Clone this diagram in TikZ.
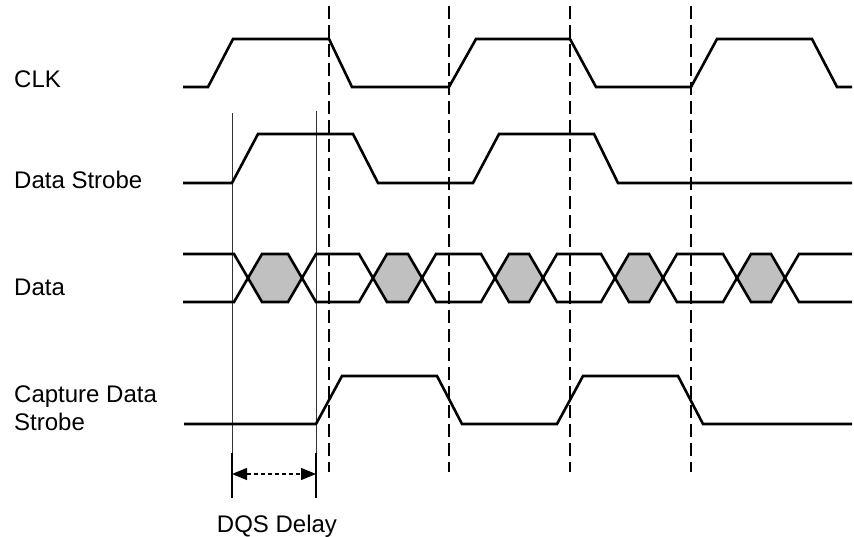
\documentclass[tikz,border=0pt]{standalone}
\usepackage{fontspec}
\setmainfont{Liberation Sans}
\usetikzlibrary{arrows.meta}
\begin{document}
\begin{tikzpicture}[x=1pt,y=-1pt,
  wave/.style={line width=2.6pt, line join=miter},
  guide/.style={line width=1.3pt, dash pattern=on 13pt off 6pt},
  marker/.style={line width=0.9pt, black!80},
  markertail/.style={line width=1.8pt},
  eyefill/.style={fill={rgb,255:red,192;green,192;blue,192}},
  dim/.style={line width=1.2pt, dash pattern=on 4pt off 3pt,
    {Triangle[length=15pt,width=12pt]}-{Triangle[length=15pt,width=12pt]}},
  lbl/.style={font=\fontsize{24}{28}\selectfont, inner sep=0pt, anchor=base west, align=left}]
\useasboundingbox (0,0) rectangle (854,537);

% labels
\node[lbl] (lclk) at (14,88) {CLK};
\node[lbl] (lds) at (14,189) {Data Strobe};
\node[lbl] (ldata) at (14,296) {Data};
\node[lbl] (lcap) at (14,430) {Capture Data\\Strobe};

% dashed guides at clock edges
\foreach \gx in {329,449,570,691}
  \draw[guide] (\gx,6) -- (\gx,472);

% marker lines
\draw[marker] (232,113) -- (232,498);
\draw[marker] (316,111) -- (316,498);
\draw[markertail] (232,453) -- (232,498);
\draw[markertail] (316,453) -- (316,498);

% CLK
\draw[wave] (183,87) -- (208,87) -- (233,39) -- (329,39) -- (352,87) -- (449,87)
  -- (476,39) -- (570,39) -- (596,87) -- (691,87) -- (717,39) -- (812,39)
  -- (837,87) -- (852,87);

% Data Strobe
\draw[wave] (183,183) -- (232,183) -- (258,134) -- (353,134) -- (378,183) -- (473,183)
  -- (499,134) -- (594,134) -- (618,183) -- (852,183);

% Data eyes (grey)
\foreach \a/\b in {248/302,373/422,495/543,615/663,737/785}
  \fill[eyefill] (\a,278) -- (\a+14,254) -- (\b-14,254) -- (\b,278)
    -- (\b-14,302) -- (\a+14,302) -- cycle;
% Data rails
\draw[wave] (183,254) -- (234,254) -- (262,302) -- (288,302) -- (316,254) -- (359,254)
  -- (387,302) -- (408,302) -- (436,254) -- (481,254) -- (509,302) -- (529,302)
  -- (557,254) -- (601,254) -- (629,302) -- (649,302) -- (677,254) -- (723,254)
  -- (751,302) -- (771,302) -- (799,254) -- (852,254);
\draw[wave] (183,302) -- (234,302) -- (262,254) -- (288,254) -- (316,302) -- (359,302)
  -- (387,254) -- (408,254) -- (436,302) -- (481,302) -- (509,254) -- (529,254)
  -- (557,302) -- (601,302) -- (629,254) -- (649,254) -- (677,302) -- (723,302)
  -- (751,254) -- (771,254) -- (799,302) -- (852,302);

% Capture Data Strobe
\draw[wave] (184,424) -- (316,424) -- (342,376) -- (437,376) -- (462,424) -- (557,424)
  -- (583,376) -- (678,376) -- (703,424) -- (852,424);

% DQS delay dimension
\coordinate (dA) at (232,474);
\coordinate (dB) at (316,474);
\draw[dim] (dA) -- (dB);
\node[lbl, anchor=base] (ldqs) at (277,532) {DQS Delay};
\end{tikzpicture}
\end{document}
